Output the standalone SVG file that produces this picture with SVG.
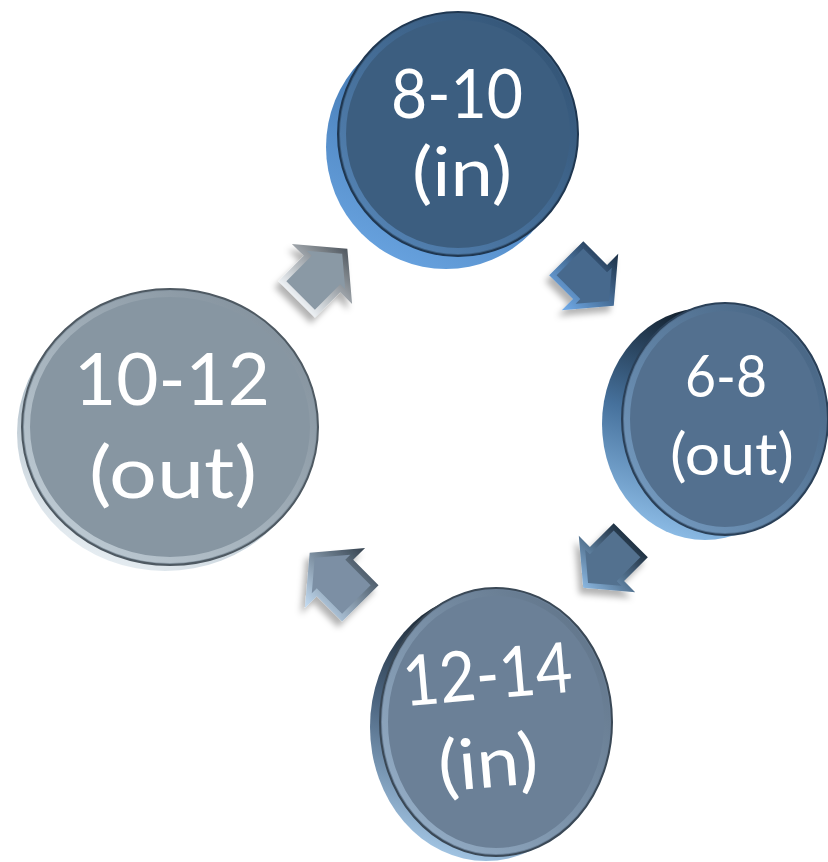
<svg xmlns="http://www.w3.org/2000/svg" width="828" height="862" viewBox="0 0 828 862">
  <style>
    .label { font-family: Lato, "Open Sans", "Liberation Sans", sans-serif; fill: #ffffff; text-anchor: middle; }
    .face-stroke { stroke-width: 2; }
    .ring { fill: none; stroke-width: 6; }
  </style>
  <defs>
    <!-- disc side walls: dark at the top, lit at the lower left -->
    <linearGradient id="side1" x1="0.7" y1="0" x2="0.2" y2="1">
      <stop offset="0" stop-color="#24405e"/>
      <stop offset="0.4" stop-color="#4a80ba"/>
      <stop offset="1" stop-color="#6aa5e2"/>
    </linearGradient>
    <linearGradient id="side2" x1="0.5" y1="0" x2="0.2" y2="1">
      <stop offset="0" stop-color="#0f1a25"/>
      <stop offset="0.5" stop-color="#46719c"/>
      <stop offset="1" stop-color="#94c4ee"/>
    </linearGradient>
    <linearGradient id="side3" x1="0.5" y1="0" x2="0.2" y2="1">
      <stop offset="0" stop-color="#0e161d"/>
      <stop offset="0.5" stop-color="#4c6580"/>
      <stop offset="1" stop-color="#acd0ef"/>
    </linearGradient>
    <linearGradient id="side4" x1="0.7" y1="0" x2="0.2" y2="1">
      <stop offset="0" stop-color="#48525b"/>
      <stop offset="0.45" stop-color="#a9b8c3"/>
      <stop offset="1" stop-color="#eef4f8"/>
    </linearGradient>
    <!-- bevel rings on the disc faces -->
    <linearGradient id="ring1" x1="1" y1="0" x2="0" y2="1">
      <stop offset="0" stop-color="#2a4866"/>
      <stop offset="1" stop-color="#639ad4"/>
    </linearGradient>
    <linearGradient id="ring2" x1="1" y1="0" x2="0" y2="1">
      <stop offset="0" stop-color="#3c5875"/>
      <stop offset="1" stop-color="#88b3dc"/>
    </linearGradient>
    <linearGradient id="ring3" x1="1" y1="0" x2="0" y2="1">
      <stop offset="0" stop-color="#56697d"/>
      <stop offset="1" stop-color="#a9c4de"/>
    </linearGradient>
    <linearGradient id="ring4" x1="1" y1="0" x2="0" y2="1">
      <stop offset="0" stop-color="#7a8894"/>
      <stop offset="1" stop-color="#d4e0e8"/>
    </linearGradient>
    <!-- arrow bevels, given in each arrow's own rotated frame -->
    <linearGradient id="bev1" gradientUnits="userSpaceOnUse" x1="0" y1="35" x2="0" y2="-35">
      <stop offset="0" stop-color="#6fa9e6"/>
      <stop offset="1" stop-color="#1f344b"/>
    </linearGradient>
    <linearGradient id="bev2" gradientUnits="userSpaceOnUse" x1="35" y1="0" x2="-35" y2="0">
      <stop offset="0" stop-color="#8fbde8"/>
      <stop offset="1" stop-color="#1c2c3c"/>
    </linearGradient>
    <linearGradient id="bev3" gradientUnits="userSpaceOnUse" x1="0" y1="-35" x2="0" y2="35">
      <stop offset="0" stop-color="#c0d8ee"/>
      <stop offset="1" stop-color="#3a4754"/>
    </linearGradient>
    <linearGradient id="bev4" gradientUnits="userSpaceOnUse" x1="-35" y1="0" x2="35" y2="0">
      <stop offset="0" stop-color="#f4f8fb"/>
      <stop offset="1" stop-color="#474f57"/>
    </linearGradient>
    <filter id="shadow" x="-30%" y="-30%" width="160%" height="160%">
      <feGaussianBlur in="SourceAlpha" stdDeviation="3"/>
      <feOffset dx="-4" dy="6" result="b"/>
      <feFlood flood-color="#000" flood-opacity="0.3"/>
      <feComposite in2="b" operator="in"/>
      <feMerge><feMergeNode/><feMergeNode in="SourceGraphic"/></feMerge>
    </filter>
    <polygon id="arrowOuter" points="-32,-23 0,-23 0,-38 32,0 0,38 0,23 -32,23"/>
    <polygon id="arrowInner" points="-27,-18 5,-18 5,-24.3 25.5,0 5,24.3 5,18 -27,18"/>
  </defs>

  <!-- connectors -->
  <g id="connectors">
    <g filter="url(#shadow)">
      <g transform="translate(590,282) rotate(45) scale(1.05)">
        <use href="#arrowOuter" fill="url(#bev1)"/>
        <use href="#arrowInner" fill="#47698d"/>
      </g>
    </g>
    <g filter="url(#shadow)">
      <g transform="translate(607,564) rotate(135) scale(1.05)">
        <use href="#arrowOuter" fill="url(#bev2)"/>
        <use href="#arrowInner" fill="#53718f"/>
      </g>
    </g>
    <g filter="url(#shadow)">
      <g transform="translate(335,578) rotate(225) scale(1.12)">
        <use href="#arrowOuter" fill="url(#bev3)"/>
        <use href="#arrowInner" fill="#7b8fa4"/>
      </g>
    </g>
    <g filter="url(#shadow)">
      <g transform="translate(322,274) rotate(-45) scale(1.12)">
        <use href="#arrowOuter" fill="url(#bev4)"/>
        <use href="#arrowInner" fill="#8a99a5"/>
      </g>
    </g>
  </g>

  <!-- 8-10 (in) -->
  <g id="node-8-10">
    <ellipse cx="446" cy="147" rx="120" ry="122" fill="url(#side1)"/>
    <ellipse cx="458" cy="134" rx="120" ry="122" fill="#3c5e80" stroke="#1f3751" class="face-stroke"/>
    <ellipse cx="458" cy="134" rx="115" ry="117" class="ring" stroke="url(#ring1)" opacity="0.7"/>
    <text class="label" x="457" y="118" font-size="68" textLength="132" lengthAdjust="spacingAndGlyphs">8-10</text>
    <text class="label" x="462" y="196" font-size="68" textLength="100" lengthAdjust="spacingAndGlyphs">(in)</text>
  </g>

  <!-- 6-8 (out) -->
  <g id="node-6-8">
    <ellipse cx="705" cy="424" rx="103" ry="116" fill="url(#side2)"/>
    <ellipse cx="725" cy="419" rx="103" ry="116" fill="#53708f" stroke="#2a4058" class="face-stroke"/>
    <ellipse cx="725" cy="419" rx="98" ry="111" class="ring" stroke="url(#ring2)" opacity="0.7"/>
    <text class="label" x="726" y="397" font-size="58" textLength="82" lengthAdjust="spacingAndGlyphs">6-8</text>
    <text class="label" x="732" y="475" font-size="58" textLength="124" lengthAdjust="spacingAndGlyphs">(out)</text>
  </g>

  <!-- 12-14 (in) -->
  <g id="node-12-14">
    <ellipse cx="486" cy="727" rx="116" ry="134" fill="url(#side3)"/>
    <ellipse cx="496" cy="722" rx="116" ry="134" fill="#6b8097" stroke="#3a4856" class="face-stroke"/>
    <ellipse cx="496" cy="722" rx="111" ry="129" class="ring" stroke="url(#ring3)" opacity="0.75"/>
    <g transform="rotate(-5 490 740)">
      <text class="label" x="493" y="699" font-size="70" textLength="170" lengthAdjust="spacingAndGlyphs">12-14</text>
      <text class="label" x="486" y="787" font-size="70" textLength="100" lengthAdjust="spacingAndGlyphs">(in)</text>
    </g>
  </g>

  <!-- 10-12 (out) -->
  <g id="node-10-12">
    <ellipse cx="165" cy="433" rx="148" ry="138" fill="url(#side4)"/>
    <ellipse cx="170" cy="427" rx="148" ry="138" fill="#8796a2" stroke="#4e5962" class="face-stroke"/>
    <ellipse cx="170" cy="427" rx="143" ry="133" class="ring" stroke="url(#ring4)" opacity="0.8"/>
    <text class="label" x="172" y="405" font-size="72" textLength="196" lengthAdjust="spacingAndGlyphs">10-12</text>
    <text class="label" x="173" y="498" font-size="72" textLength="168" lengthAdjust="spacingAndGlyphs">(out)</text>
  </g>
</svg>
